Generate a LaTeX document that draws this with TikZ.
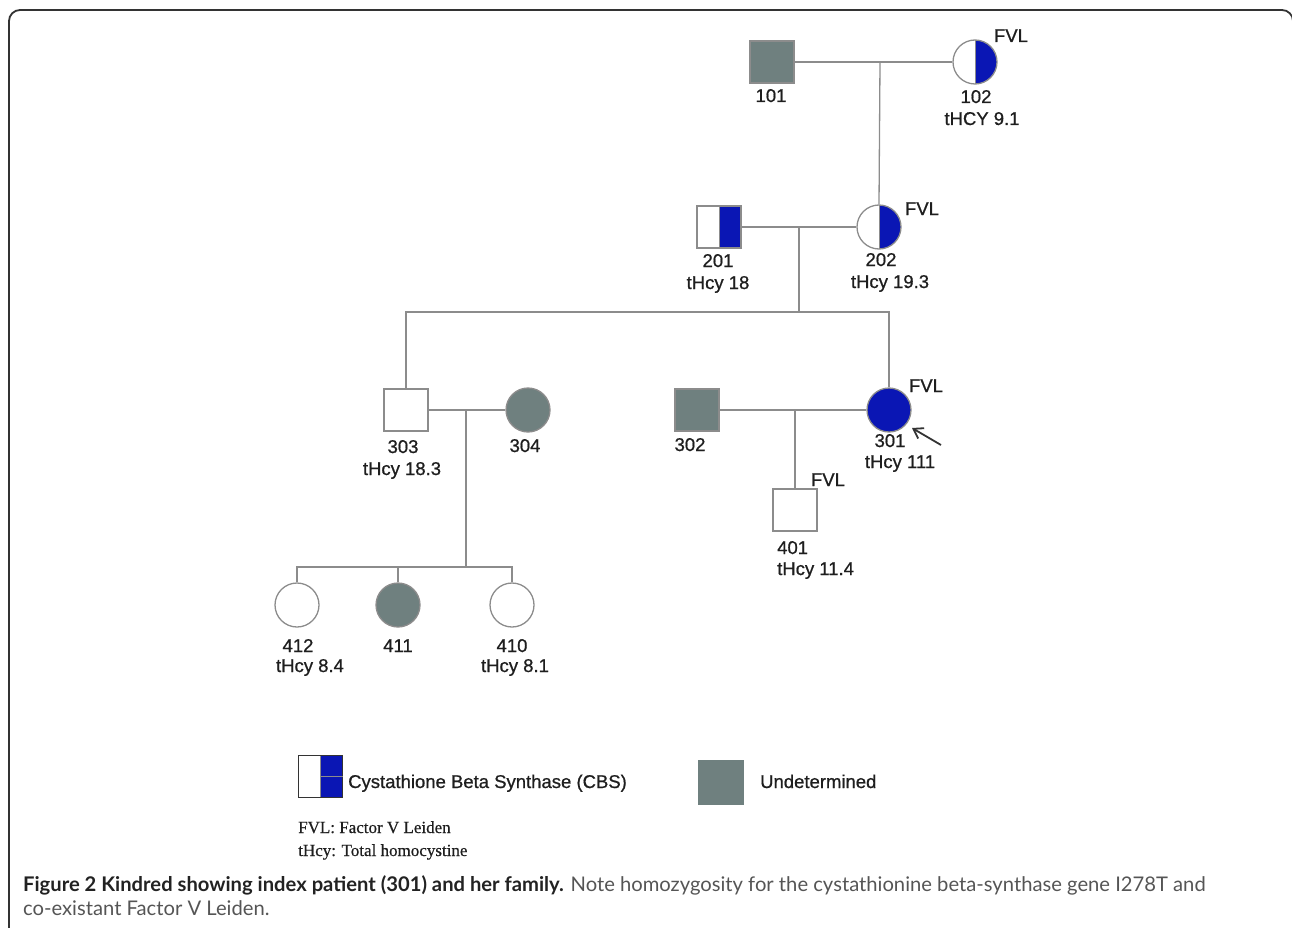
\documentclass[tikz,border=0pt]{standalone}
\usepackage{fontspec}
\setmainfont{Liberation Sans}
\newfontfamily\lblfont[FakeBold=0.8]{Liberation Sans}
\newfontfamily\capfont{Lato}
\newfontfamily\legserif[FakeBold=0.5]{Liberation Serif}
\usetikzlibrary{arrows.meta}
\definecolor{lngray}{HTML}{8C8C8C}
\definecolor{undet}{HTML}{6F807F}
\definecolor{cbs}{HTML}{0A16B4}
\definecolor{txt}{HTML}{1E1E1E}
\definecolor{capdark}{HTML}{222222}
\definecolor{capgray}{HTML}{555555}
\definecolor{framec}{HTML}{333333}
\begin{document}
\begin{tikzpicture}[x=1pt,y=-1pt,
  lbl/.style={font=\lblfont\fontsize{18.5}{20}\selectfont, text=txt, inner sep=0pt, anchor=base},
  male/.style={draw=lngray, line width=1.3pt, rectangle, minimum width=44pt, minimum height=42pt, inner sep=0pt},
  female/.style={draw=lngray, line width=1.3pt, circle, minimum size=44pt, inner sep=0pt},
  undetf/.style={fill=undet},
  halfcbs/.style={path picture={\fill[cbs] (path picture bounding box.north) rectangle (path picture bounding box.south east);
      \draw[lngray,line width=1pt] (path picture bounding box.north) -- (path picture bounding box.south);}},
  affected/.style={fill=cbs},
  link/.style={draw=lngray, line width=1.3pt},
  legtxt/.style={font=\legserif\fontsize{17}{19}\selectfont, text=txt, inner sep=0pt, anchor=base west}]
\useasboundingbox (0,0) rectangle (1292,928);
% frame
\draw[framec, line width=1.8pt, rounded corners=11pt] (9,935) -- (9,10) -- (1293,10) -- (1293,935);

% Generation I
\node[male, undetf] (n101) at (772,62) {};
\node[female, halfcbs] (n102) at (975,62) {};
% Generation II
\node[male, halfcbs] (n201) at (719,227) {};
\node[female, halfcbs] (n202) at (879,227) {};
% Generation III
\node[male] (n303) at (406,410) {};
\node[female, undetf] (n304) at (528,410) {};
\node[male, undetf] (n302) at (697,410) {};
\node[female, affected] (n301) at (889,410) {};
% Generation IV
\node[male] (n401) at (795,510) {};
\node[female] (n412) at (297,605) {};
\node[female, undetf] (n411) at (398,605) {};
\node[female] (n410) at (512,605) {};

% connectors
\coordinate (m1) at (880,62);
\draw[link] (n101.east) -- (n102.west);
\draw[link] (m1) -- (n202.north);

\coordinate (m2) at (799,227);
\coordinate (s2) at (799,312);
\coordinate (s2L) at (406,312);
\coordinate (s2R) at (889,312);
\draw[link] (n201.east) -- (n202.west);
\draw[link] (m2) -- (s2);
\draw[link] (n303.north) -- (s2L) -- (s2R) -- (n301.north);

\coordinate (m3) at (466,410);
\coordinate (s3) at (466,567);
\coordinate (s3L) at (297,567);
\coordinate (s3R) at (512,567);
\draw[link] (n303.east) -- (n304.west);
\draw[link] (m3) -- (s3);
\draw[link] (n412.north) -- (s3L) -- (s3R) -- (n410.north);
\draw[link] (n411.north) -- (n411.north |- s3L);

\coordinate (m4) at (795,410);
\draw[link] (n302.east) -- (n301.west);
\draw[link] (m4) -- (n401.north);

% index arrow
\coordinate (arrtail) at (941,445);
\coordinate (arrtip) at (912,428);
\draw[framec, line width=1.8pt, -{Straight Barb[length=9pt,width=12pt,line width=1.8pt]}] (arrtail) -- (arrtip);

% labels
\node[lbl] (t101) at (771,102) {101};
\node[lbl] (t102) at (976,103) {102};
\node[lbl] (h102) at (982,125) {tHCY 9.1};
\node[lbl] (f102) at (1011,42) {FVL};
\node[lbl] (t201) at (718,267) {201};
\node[lbl] (h201) at (718,289) {tHcy 18};
\node[lbl] (t202) at (881,266) {202};
\node[lbl] (h202) at (890,288) {tHcy 19.3};
\node[lbl] (f202) at (922,215) {FVL};
\node[lbl] (t303) at (403,453) {303};
\node[lbl] (h303) at (402,475) {tHcy 18.3};
\node[lbl] (t304) at (525,452) {304};
\node[lbl] (t302) at (690,451) {302};
\node[lbl] (t301) at (890,447) {301};
\node[lbl] (h301) at (900,468) {tHcy 111};
\node[lbl] (f301) at (926,392) {FVL};
\node[lbl] (f401) at (828,486) {FVL};
\node[lbl, anchor=base west] (t401) at (777,554) {401};
\node[lbl, anchor=base west] (h401) at (777,575) {tHcy 11.4};
\node[lbl] (t412) at (298,652) {412};
\node[lbl] (h412) at (310,672) {tHcy 8.4};
\node[lbl] (t411) at (398,652) {411};
\node[lbl] (t410) at (512,652) {410};
\node[lbl] (h410) at (515,672) {tHcy 8.1};

% legend
\node[male, halfcbs, draw=framec, line width=1pt, minimum width=44pt, minimum height=42pt] (legcbs) at (320,776) {};
\draw[lngray, line width=0.8pt] (legcbs.center) -- (legcbs.east);
\node[lbl, anchor=base west] (legcbstxt) at (348,788) {Cystathione Beta Synthase (CBS)};
\node[rectangle, fill=undet, minimum width=46pt, minimum height=45pt, inner sep=0pt] (legund) at (721,782) {};
\node[lbl, anchor=base west] (legundtxt) at (760,788) {Undetermined};
\node[legtxt] (legfvl) at (298,833) {FVL: Factor V Leiden};
\node[legtxt] (leghcy) at (298,856) {tHcy: Total homocystine};

% caption
\node[inner sep=0pt, anchor=base west, font=\capfont\fontsize{20.2}{24}\selectfont] (cap1) at (23,891)
  {\textcolor{capdark}{\bfseries Figure 2 Kindred showing index patient (301) and her family.} \textcolor{capgray}{Note homozygosity for the cystathionine beta-synthase gene I278T and}};
\node[inner sep=0pt, anchor=base west, font=\capfont\fontsize{20.2}{24}\selectfont, text=capgray] (cap2) at (23,915)
  {co-existant Factor V Leiden.};
\end{tikzpicture}
\end{document}
